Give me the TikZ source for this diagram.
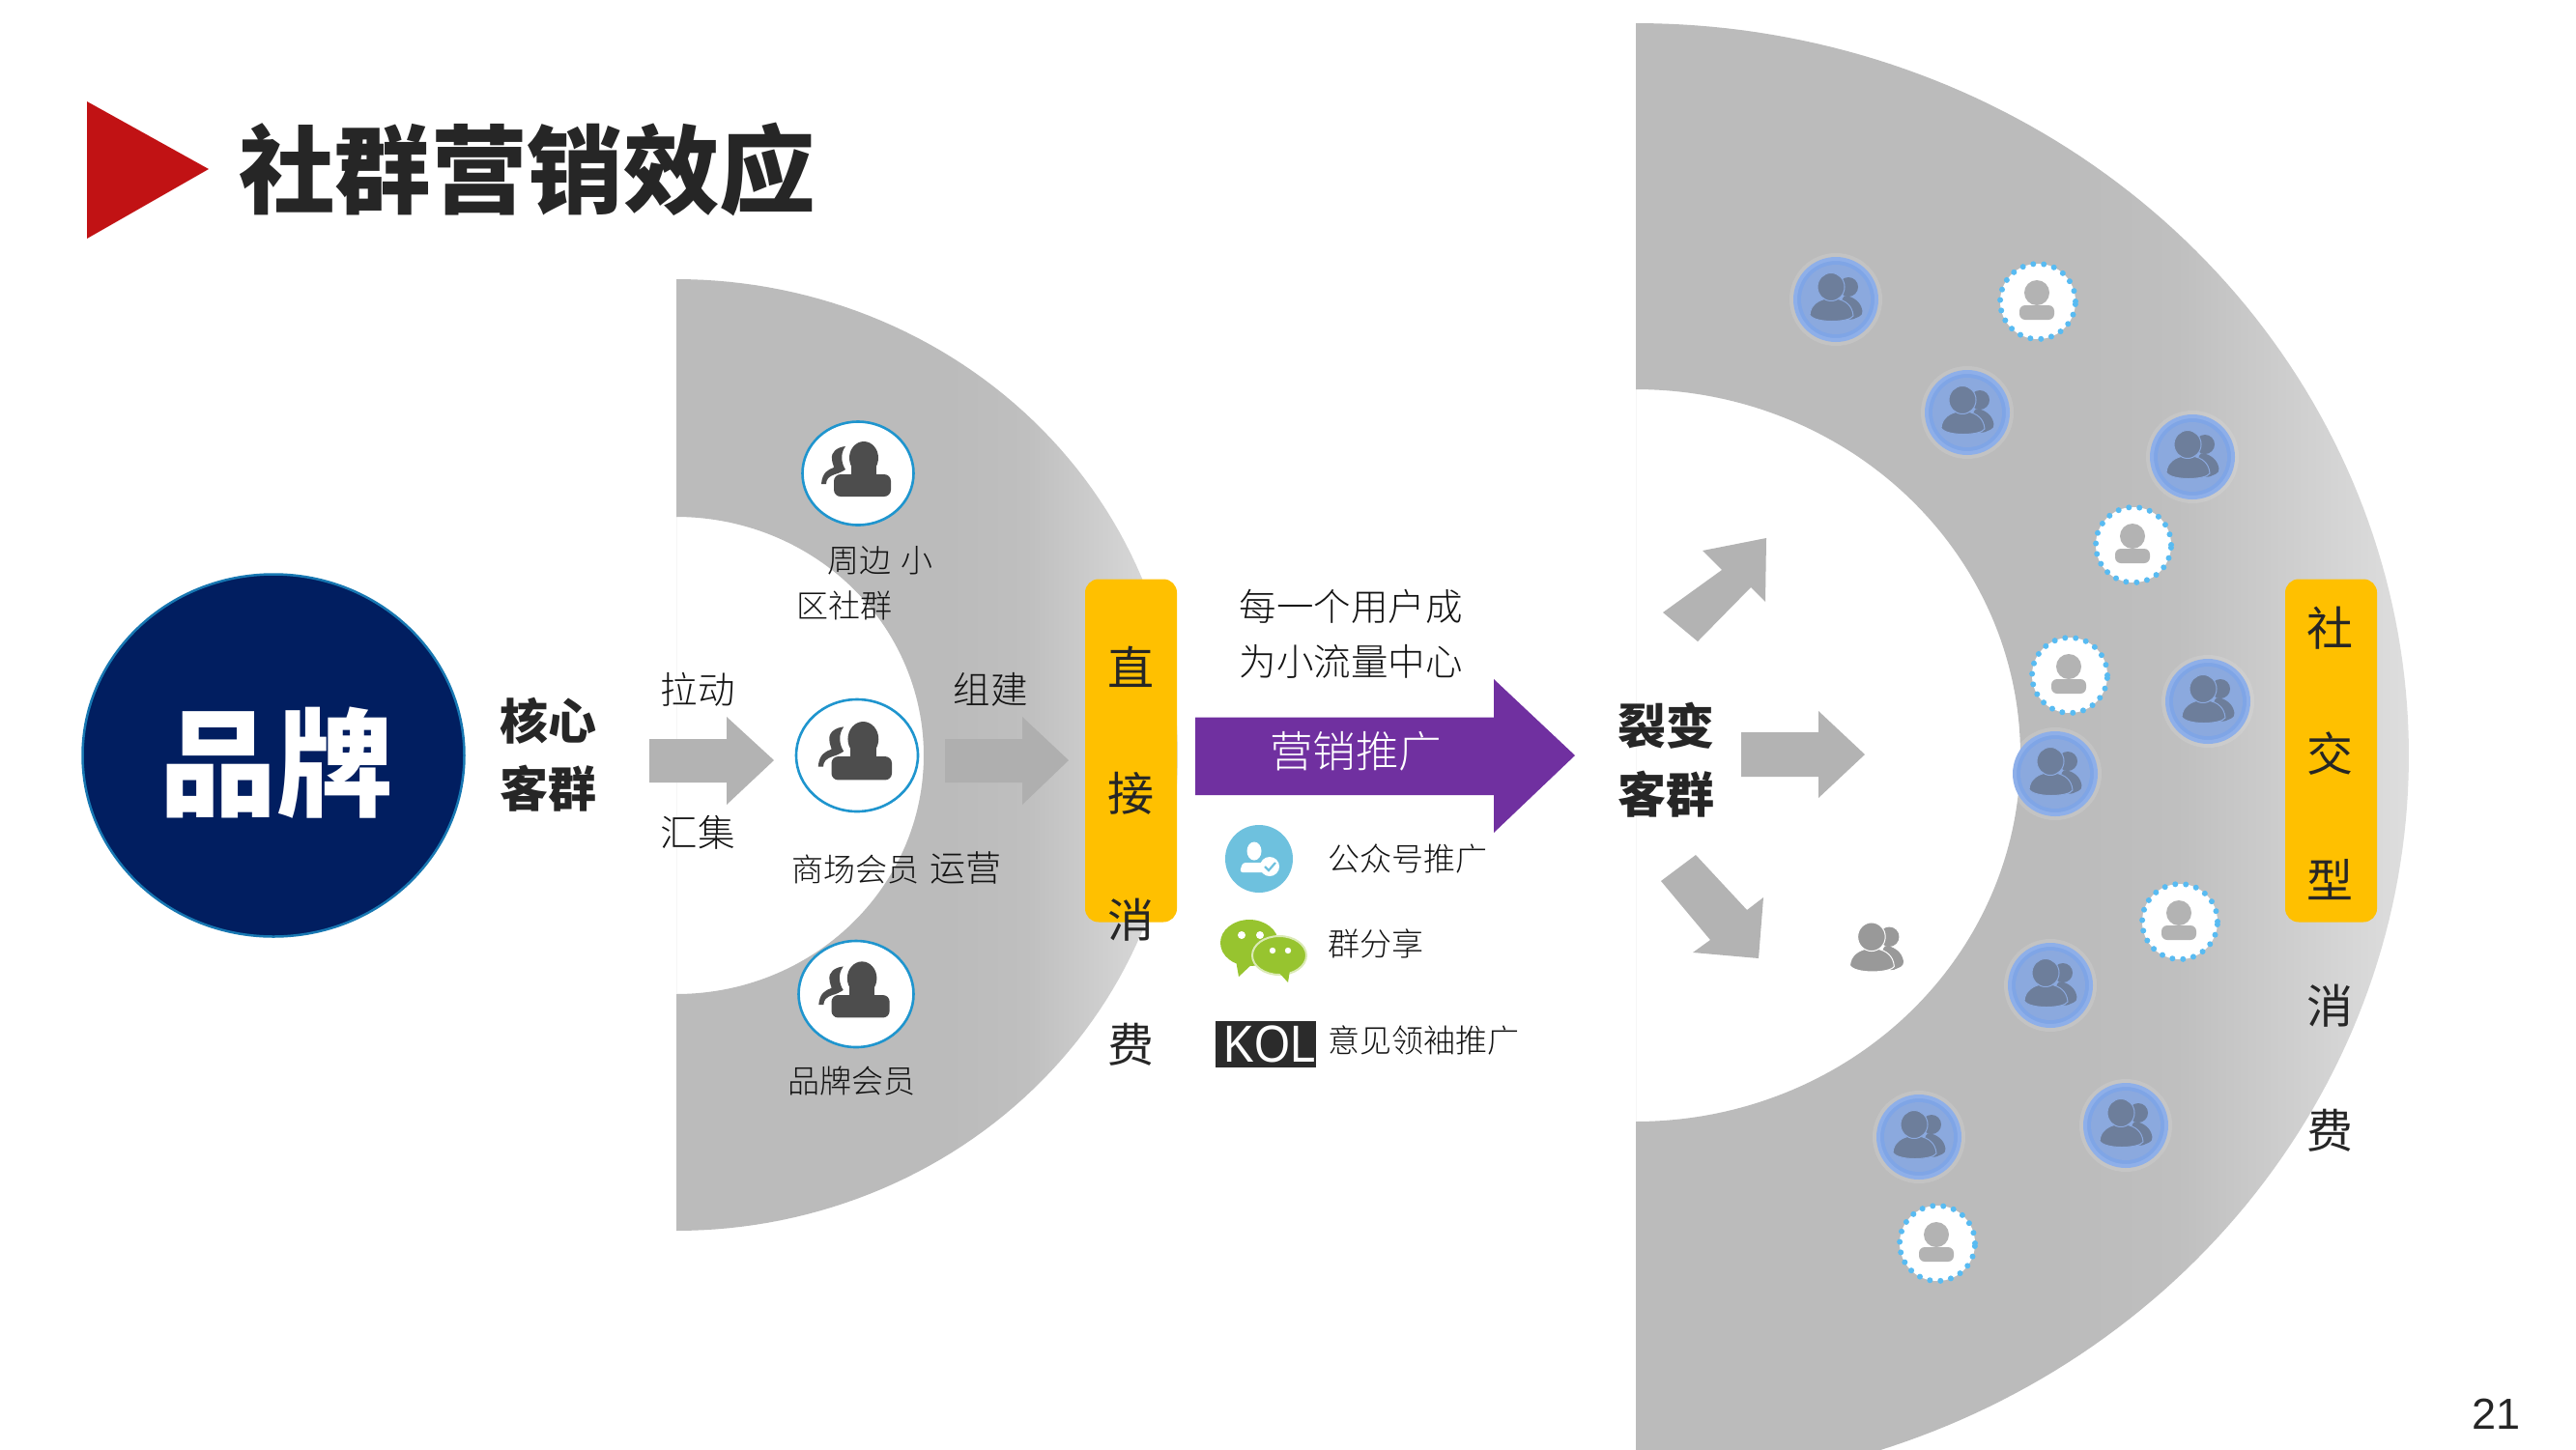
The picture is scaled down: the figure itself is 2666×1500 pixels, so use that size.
\documentclass[tikz,border=0pt]{standalone}
\usepackage{fontspec}
\setmainfont{Noto Sans CJK SC}
\newfontfamily\latinfont{Liberation Sans}
\newfontfamily\medfont{Noto Sans CJK SC Medium}
\newfontfamily\lightfont{Noto Sans CJK SC Light}
\usetikzlibrary{shapes.geometric}
\newcommand{\fs}[1]{\fontsize{#1}{#1}\selectfont}
\definecolor{txt}{HTML}{262626}
\definecolor{txtlight}{HTML}{141414}
\definecolor{blockgray}{HTML}{B3B3B3}
\definecolor{gold}{HTML}{FFC000}
\definecolor{navy}{HTML}{011E60}
\definecolor{ringblue}{HTML}{1F95CE}
\definecolor{iconDark}{HTML}{4D4D4D}
\definecolor{grpBlue}{HTML}{7FA5E6}
\definecolor{grpInner}{HTML}{8BA9DE}
\definecolor{grpIcon}{HTML}{6D7E9B}
\definecolor{dotBlue}{HTML}{58BBF2}
\definecolor{wechat}{HTML}{97C42F}
\definecolor{ringL}{HTML}{BBBBBB}
\definecolor{ringM}{HTML}{BFBFBF}
\definecolor{ringR}{HTML}{DEDEDE}
\pgfdeclarehorizontalshading{ringshade}{100bp}{color(0bp)=(ringL); color(25bp)=(ringL); color(52bp)=(ringL); color(60bp)=(ringM); color(75bp)=(ringR); color(100bp)=(ringR)}
\tikzset{
  lab/.style={font=\lightfont\fs{33}, text=txtlight, inner sep=0pt, anchor=center},
  midlab/.style={font=\lightfont\fs{38.5}, text=txtlight, inner sep=0pt, anchor=center},
  boldlab/.style={font=\fs{50}\bfseries, text=txt, inner sep=0pt, anchor=center},
  vlab/.style={font=\fs{48}, text=txt, inner sep=0pt, anchor=center},
  block/.style={fill=blockgray, draw=none},
  goldbox/.style={rectangle, rounded corners=14pt, fill=gold, draw=none, minimum width=95pt, minimum height=355pt, inner sep=0pt},
  personring/.style={ellipse, fill=white, draw=ringblue, line width=2.6pt, inner sep=0pt},
  grpdisc/.style={circle, fill=grpBlue, draw=white, draw opacity=0.12, line width=8pt, minimum size=88pt, inner sep=0pt},
  dotdisc/.style={circle, fill=white, draw=dotBlue, line width=6pt, line cap=round, dash pattern=on 0pt off 11pt, minimum size=78pt, inner sep=0pt},
}
% dark person pair inside a ringed circle
\newcommand{\personicon}[2]{%
  \begin{scope}[shift={(#1)},scale=#2]
    \fill[iconDark] (-13,-28) .. controls (-22,-27) and (-28,-22) .. (-27,-15) .. controls (-27,-11) and (-25,-8) .. (-25,-6) .. controls (-31,-4) and (-37,-1) .. (-38,11) -- (-33,11) .. controls (-33,6) and (-30,3) .. (-24,1) .. controls (-20,0) and (-16,-2) .. (-13,-4) .. controls (-17,-10) and (-19,-20) .. (-13,-28) -- cycle;
    \fill[iconDark] (6,-16) ellipse [x radius=15pt,y radius=17pt];
    \fill[iconDark] (-7,-12) rectangle (19,6);
    \fill[iconDark, rounded corners=7pt] (-25,24) -- (-25,1) -- (34,1) -- (34,24) -- cycle;
  \end{scope}}
% group of two people
\newcommand{\groupicon}[4]{%
  \begin{scope}[shift={(#1)},scale=#2]
    \fill[#3] (13,-13) circle [radius=10pt];
    \fill[#3, rounded corners=4pt] (8,-5) .. controls (18,-2) and (26,2) .. (28,16) -- (14,22) -- (4,10) -- cycle;
    \fill[#3, draw=#4, line width=1pt] (-27,16) .. controls (-26,5) and (-18,1) .. (-10,-1) -- (0,-1) .. controls (10,1) and (17,6) .. (18,17) .. controls (14,24) and (-22,25) .. (-27,16) -- cycle;
    \fill[#3, draw=#4, line width=1pt] (-5,-13) ellipse [x radius=14pt,y radius=14.5pt];
  \end{scope}}
% single person on a dotted disc
\newcommand{\singleicon}[1]{%
  \begin{scope}[shift={(#1)}]
    \fill[blockgray] (-1,-9) circle [radius=13pt];
    \fill[blockgray, rounded corners=6pt] (-19,4) rectangle (17,19);
  \end{scope}}
\begin{document}
\begin{tikzpicture}[x=1pt,y=-1pt]
\useasboundingbox (0,0) rectangle (2666,1500);
\clip (0,0) rectangle (2666,1500);
\fill[white] (0,0) rectangle (2666,1500);

% title
\fill[fill={rgb,255:red,193;green,18;blue,20}] (90,105) -- (216,175) -- (90,247) -- cycle;
\node[inner sep=0pt, anchor=west, font=\fs{99.5}\bfseries, text=txt] (title) at (247,175) {社群营销效应};

% half rings
\path[shade, shading=ringshade, even odd rule]
  plot[domain=-90:90, samples=120] ({700+519*cos(\x)},{781.5+492.5*sin(\x)}) -- cycle
  plot[domain=-90:90, samples=120] ({700+256*cos(\x)},{782+247*sin(\x)}) -- cycle;
\path[shade, shading=ringshade, even odd rule]
  plot[domain=-90:90, samples=160] ({1693+800*cos(\x)},{782+758*sin(\x)}) -- cycle
  plot[domain=-90:90, samples=160] ({1693+398*cos(\x)},{782+379*sin(\x)}) -- cycle;

% brand
\node[ellipse, fill=navy, draw=ringblue!75!navy, line width=2.5pt, minimum width=395pt, minimum height=375pt, inner sep=0pt] (brand) at (283,782) {};
\node[inner sep=0pt, font=\fs{121}\bfseries, text=white] (brandtxt) at (286,790) {品牌};

\node[boldlab] (he) at (567,746) {核心};
\node[boldlab] (kq) at (567,816) {客群};
\node[midlab] (ld) at (722,714) {拉动};
\node[midlab] (hj) at (722,862) {汇集};
\fill[block] (672,765) -- (752,765) -- (752,742) -- (801,787) -- (752,833) -- (752,810) -- (672,810) -- cycle;
\node[midlab] (zj) at (1025,714) {组建};
\fill[fill=blockgray!92!gray] (978,765) -- (1058,765) -- (1058,742) -- (1106,787) -- (1058,833) -- (1058,810) -- (978,810) -- cycle;

% person rings
\node[personring, minimum width=115pt, minimum height=107pt] (pa) at (888,490) {};
\personicon{888,490}{1}
\node[personring, minimum width=126pt, minimum height=116pt] (pb) at (887,782) {};
\personicon{887,782}{1.06}
\node[personring, minimum width=119pt, minimum height=110pt] (pc) at (886,1029) {};
\personicon{886,1029}{1.02}
\node[lab] (la1) at (911,580) {周边\,\,小};
\node[lab] (la2) at (874,627) {区社群};
\node[lab] (lb) at (928,898) {商场会员\,\,{\fs{37}运营}};
\node[lab] (lc) at (881,1119) {品牌会员};

% gold boxes
\node[goldbox] (g1) at (1170.5,777) {};
\node[vlab] at (1170,690) {直};
\node[vlab] at (1170,821) {接};
\node[vlab] at (1170,952) {消};
\node[vlab] at (1170,1081) {费};
\node[goldbox] (g2) at (2412.5,777) {};
\node[vlab] at (2411,650) {社};
\node[vlab] at (2411,780) {交};
\node[vlab] at (2411,911) {型};
\node[vlab] at (2411,1041) {消};
\node[vlab] at (2411,1170) {费};

% marketing arrow
\node[midlab] (u1) at (1398,628) {每一个用户成};
\node[midlab] (u2) at (1398,685) {为小流量中心};
\fill[fill={rgb,255:red,112;green,48;blue,160}] (1237,742.5) -- (1546,742.5) -- (1546,703) -- (1630,782) -- (1546,862) -- (1546,823) -- (1237,823) -- cycle;
\node[inner sep=0pt, font=\lightfont\fs{44.5}, text=white] (yx) at (1403,778) {营销推广};

% channel icons
\node[circle, fill={rgb,255:red,110;green,193;blue,222}, minimum size=70pt, inner sep=0pt] (ic1) at (1303,889) {};
\fill[white] (1298,881) ellipse [x radius=7.5pt,y radius=9.5pt];
\fill[white, rounded corners=3pt] (1283,903) -- (1286,893) -- (1310,893) -- (1312,903) -- cycle;
\fill[white] (1314,897) circle [radius=10pt];
\draw[fill=none, draw={rgb,255:red,110;green,193;blue,222}, line width=2.2pt] (1309,897) -- (1313,901) -- (1320,893);
\node[lab, anchor=west] (c1) at (1374,889) {公众号推广};

\fill[wechat] (1293,976) ellipse [x radius=30pt,y radius=24pt];
\fill[wechat] (1279,994) -- (1282,1011) -- (1298,996) -- cycle;
\fill[white] (1285,968) circle [radius=4pt];
\fill[white] (1304,968) circle [radius=4pt];
\node[ellipse, fill=wechat, draw=wechat!35!white, line width=2pt, minimum width=56pt, minimum height=40pt, inner sep=0pt] (ic2) at (1324,989) {};
\fill[wechat] (1322,1005) -- (1333,1017) -- (1335,1004) -- cycle;
\fill[white] (1317,984) circle [radius=3.2pt];
\fill[white] (1333,984) circle [radius=3.2pt];
\node[lab, anchor=west] (c2) at (1374,977) {群分享};

\node[rectangle, fill={rgb,255:red,43;green,43;blue,43}, minimum width=104pt, minimum height=48pt, inner sep=0pt] (kolbox) at (1310,1081) {};
\node[inner sep=0pt, text=white, font=\latinfont\fs{54}, xscale=0.88] (kol) at (1314,1081) {KOL};
\node[lab, anchor=west] (c3) at (1374,1077) {意见领袖推广};

% fission
\node[boldlab] (lb1) at (1724,751) {裂变};
\node[boldlab] (lb2) at (1724,822) {客群};
\fill[block] (1721,634) -- (1757,664) -- (1812,608) -- (1827,623) -- (1828,557) -- (1762,570) -- (1782,590) -- cycle;
\fill[block] (1802,758) -- (1882,758) -- (1882,736) -- (1930,781) -- (1882,826) -- (1882,804) -- (1802,804) -- cycle;
\fill[block] (1719,912) -- (1755,885) -- (1808,942) -- (1825,929) -- (1820,992) -- (1752,986) -- (1770,973) -- cycle;
\groupicon{1942,983}{1.02}{black!40}{white}

% group discs
\foreach \n/\px/\py in {a/1900/310, b/2036/427, c/2269/473, d/2285/726, e/2127/801, f/2122/1020, g/1986/1177, h/2200/1165}{
  \node[grpdisc] (grp\n) at (\px,\py) {};
  \fill[grpInner] (\px,\py) circle [radius=36pt];
  \groupicon{\px,\py}{1}{grpIcon}{grpInner}
}
% dotted discs
\foreach \n/\px/\py in {a/2109/312, b/2208/564, c/2142/699, d/2256/954, e/2005/1287}{
  \node[dotdisc] (dot\n) at (\px,\py) {};
  \singleicon{\px,\py}
}

\node[inner sep=0pt, font=\latinfont\fs{45}, text=txt] (pageno) at (2583,1464) {21};
\end{tikzpicture}
\end{document}
